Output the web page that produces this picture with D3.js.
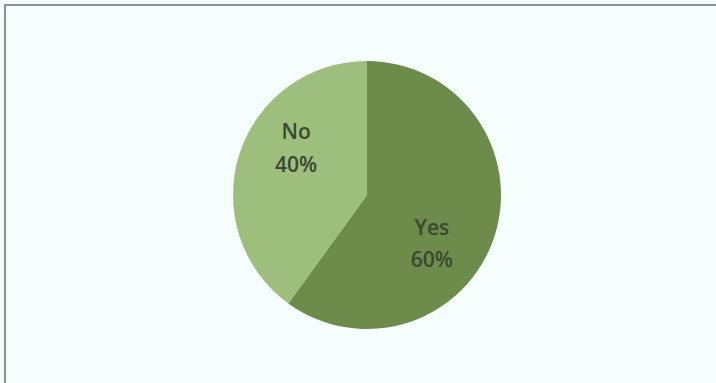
<!DOCTYPE html>
<html>
<head>
<meta charset="utf-8">
<script src="https://cdn.jsdelivr.net/npm/d3@7/dist/d3.min.js"></script>
<style>
  html, body { margin: 0; padding: 0; background: #f5fdfd; }
  svg { display: block; }
</style>
</head>
<body>
<svg id="chart" width="716" height="383"></svg>
<script>
// Survey answers and their shares
const categories = ["Yes", "No"];
const values = [60, 40];
const colors = ["#6d8c4c", "#9dbe7c"];

const width = 716, height = 383;
const cx = 367, cy = 195, radius = 134;

const svg = d3.select("#chart");

// frame: top and left edges
svg.append("rect").attr("x", 0).attr("y", 0).attr("width", width).attr("height", height).attr("fill", "#f5fdfd");
svg.append("line").attr("x1", 4).attr("x2", width).attr("y1", 5).attr("y2", 5)
  .attr("stroke", "#8a929e").attr("stroke-width", 2);
svg.append("line").attr("x1", 5).attr("x2", 5).attr("y1", 5).attr("y2", height)
  .attr("stroke", "#8a929e").attr("stroke-width", 2);

const data = categories.map((c, i) => ({ name: c, value: values[i], color: colors[i] }));

const pie = d3.pie().value(d => d.value).sort(null);
const arcs = pie(data);

const arc = d3.arc().innerRadius(0).outerRadius(radius);
// labels sit a little clockwise of each slice's middle
const labelShift = 0.3;
const labelArc = d3.arc().innerRadius(83).outerRadius(83);

const g = svg.append("g").attr("transform", `translate(${cx},${cy})`);

g.selectAll("path.slice")
  .data(arcs)
  .join("path")
  .attr("class", "slice")
  .attr("d", arc)
  .attr("fill", d => d.data.color);

const labels = g.selectAll("text.lbl")
  .data(arcs)
  .join("text")
  .attr("class", "lbl")
  .attr("transform", d => {
    const c = labelArc.centroid({ startAngle: d.startAngle + labelShift, endAngle: d.endAngle + labelShift });
    return `translate(${c[0] - 3},${c[1] - 4})`;
  })
  .attr("text-anchor", "middle")
  .attr("font-family", "'Open Sans', sans-serif")
  .attr("font-size", 21)
  .attr("font-weight", 600)
  .attr("fill", "#3a4830");

labels.append("tspan").attr("x", 0).attr("dy", "-0.2em").text(d => d.data.name);
labels.append("tspan").attr("x", 0).attr("dy", "1.55em").text(d => d.data.value + "%");
</script>
</body>
</html>
